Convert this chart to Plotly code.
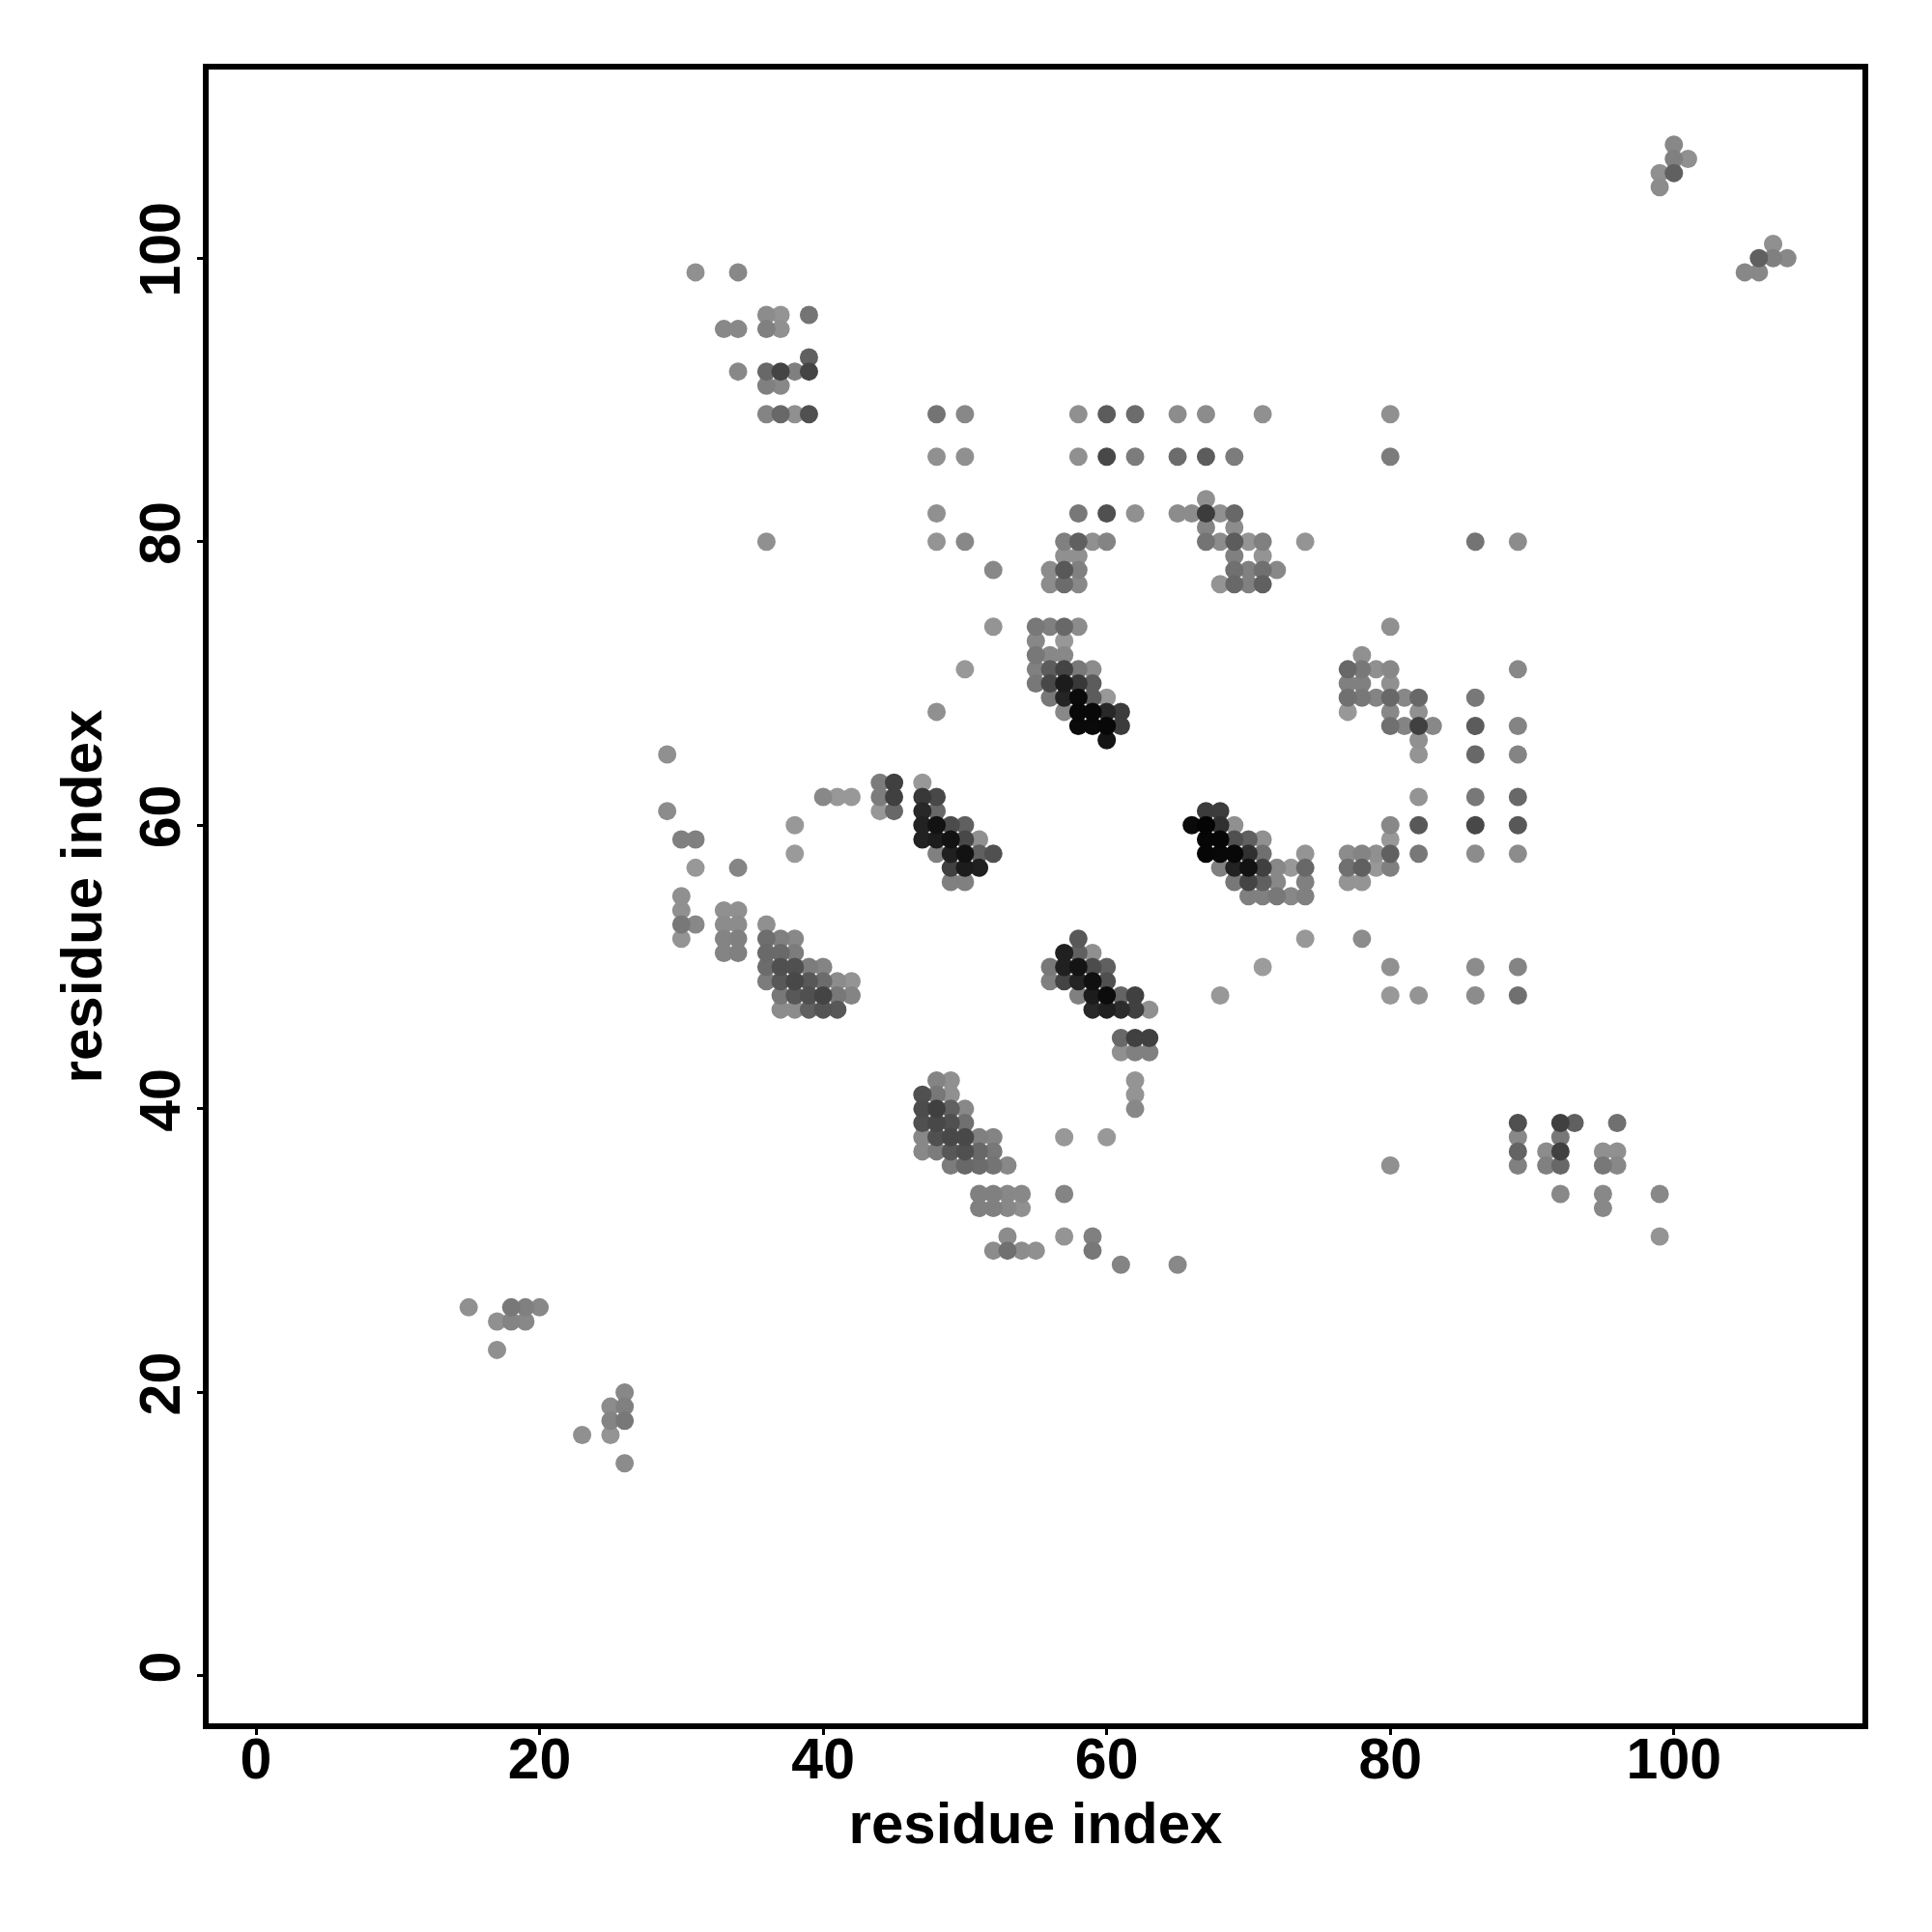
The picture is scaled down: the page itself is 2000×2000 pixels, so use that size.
import plotly.graph_objects as go

# One line per row of the map: the y residue, its x residues, and their grey levels.
row_y = [108, 107, 106, 105, 101, 100, 99, 96, 95, 93, 92, 91, 89, 86, 83, 82, 81, 80, 79, 78,
         77, 74, 73, 72, 71, 70, 69, 68, 67, 66, 65, 63, 62, 61, 60, 59, 58, 57, 56, 55,
         54, 53, 52, 51, 50, 49, 48, 47, 45, 44, 42, 41, 40, 39, 38, 37, 36, 34, 33, 31,
         30, 29, 26, 25, 23, 20, 19, 18, 17, 15]

row_x = [
    [100],
    [100, 101],
    [99, 100],
    [99],
    [107],
    [106, 107, 108],
    [31, 34, 105, 106],
    [36, 37, 39],
    [33, 34, 36, 37],
    [39],
    [34, 36, 37, 38, 39],
    [36, 37],
    [36, 37, 38, 39, 48, 50, 58, 60, 62, 65, 67, 71, 80],
    [48, 50, 58, 60, 62, 65, 67, 69, 80],
    [67],
    [48, 58, 60, 62, 65, 66, 67, 68, 69],
    [67, 69],
    [36, 48, 50, 57, 58, 59, 60, 67, 68, 69, 70, 71, 74, 86, 89],
    [57, 58, 69, 71],
    [52, 56, 57, 58, 69, 70, 71, 72],
    [56, 57, 58, 68, 69, 70, 71],
    [52, 55, 56, 57, 58, 80],
    [55, 57],
    [55, 56, 57, 78],
    [50, 55, 56, 57, 58, 59, 77, 78, 79, 80, 89],
    [55, 56, 57, 58, 59, 77, 78, 80],
    [56, 57, 58, 59, 60, 77, 78, 79, 80, 81, 82, 86],
    [48, 57, 58, 59, 60, 61, 77, 80, 82],
    [58, 59, 60, 61, 80, 81, 82, 83, 86, 89],
    [60, 82],
    [29, 82, 86, 89],
    [44, 45, 47],
    [40, 41, 42, 44, 45, 47, 48, 82, 86, 89],
    [29, 44, 45, 47, 48, 67, 68],
    [38, 47, 48, 49, 50, 66, 67, 68, 69, 80, 82, 86, 89],
    [30, 31, 47, 48, 49, 50, 51, 67, 68, 69, 70, 71, 80],
    [38, 48, 49, 50, 51, 52, 67, 68, 69, 70, 71, 74, 77, 78, 79, 80, 82, 86, 89],
    [31, 34, 49, 50, 51, 68, 69, 70, 71, 72, 73, 74, 77, 78, 79, 80],
    [49, 50, 69, 70, 71, 72, 74, 77, 78],
    [30, 70, 71, 72, 73, 74],
    [30, 33, 34],
    [30, 31, 33, 34, 36],
    [30, 33, 34, 36, 37, 38, 58, 74, 78],
    [33, 34, 36, 37, 38, 57, 58, 59],
    [36, 37, 38, 39, 40, 56, 57, 58, 59, 60, 71, 80, 86, 89],
    [36, 37, 38, 39, 40, 41, 42, 56, 57, 58, 59, 60],
    [37, 38, 39, 40, 41, 42, 58, 59, 60, 61, 62, 68, 80, 82, 86, 89],
    [37, 38, 39, 40, 41, 59, 60, 61, 62, 63],
    [61, 62, 63],
    [61, 62, 63],
    [48, 49, 62],
    [47, 48, 49, 62],
    [47, 48, 49, 50, 62],
    [47, 48, 49, 50, 89, 92, 93, 96],
    [47, 48, 49, 50, 51, 52, 57, 60, 89, 92],
    [47, 48, 49, 50, 51, 52, 89, 91, 92, 95, 96],
    [49, 50, 51, 52, 53, 80, 89, 91, 92, 95, 96],
    [51, 52, 53, 54, 57, 92, 95, 99],
    [51, 52, 53, 54, 95],
    [53, 57, 59, 99],
    [52, 53, 54, 55, 59],
    [61, 65],
    [15, 18, 19, 20],
    [17, 18, 19],
    [17],
    [26],
    [25, 26],
    [25, 26],
    [23, 25],
    [26],
]

row_shade = [
    [0x88],
    [0x80, 0x90],
    [0x90, 0x60],
    [0x8c],
    [0x90],
    [0x60, 0x80, 0x88],
    [0x90, 0x88, 0x88, 0x88],
    [0x8c, 0x94, 0x74],
    [0x88, 0x88, 0x80, 0x90],
    [0x60],
    [0x88, 0x68, 0x44, 0x80, 0x44],
    [0x80, 0x88],
    [0x84, 0x68, 0x90, 0x50, 0x74, 0x88, 0x90, 0x5c, 0x6c, 0x8c, 0x8c, 0x90, 0x90],
    [0x90, 0x90, 0x90, 0x48, 0x7c, 0x6c, 0x5c, 0x7c, 0x7c],
    [0x90],
    [0x90, 0x78, 0x50, 0x90, 0x8c, 0x8c, 0x3c, 0x90, 0x68],
    [0x84, 0x8c],
    [0x90, 0x94, 0x88, 0x80, 0x60, 0x90, 0x84, 0x74, 0x8c, 0x5c, 0x94, 0x80, 0x94, 0x74, 0x8c],
    [0x90, 0x90, 0x80, 0x94],
    [0x88, 0x8c, 0x58, 0x80, 0x70, 0x80, 0x70, 0x88],
    [0x8c, 0x6c, 0x88, 0x94, 0x68, 0x80, 0x60],
    [0x94, 0x78, 0x80, 0x68, 0x8c, 0x90],
    [0x88, 0x98],
    [0x78, 0x88, 0x88, 0x90],
    [0x98, 0x80, 0x5c, 0x44, 0x78, 0x8c, 0x68, 0x78, 0x90, 0x88, 0x88],
    [0x78, 0x48, 0x1c, 0x38, 0x5c, 0x80, 0x80, 0x90],
    [0x78, 0x24, 0x0a, 0x5c, 0x98, 0x70, 0x78, 0x84, 0x68, 0x88, 0x68, 0x78],
    [0x90, 0x88, 0x08, 0x08, 0x28, 0x3c, 0x98, 0x88, 0x90],
    [0x0a, 0x0a, 0x08, 0x3c, 0x70, 0x84, 0x40, 0x88, 0x5c, 0x84],
    [0x14, 0x90],
    [0x90, 0x94, 0x68, 0x84],
    [0x7c, 0x40, 0x98],
    [0x88, 0x98, 0x98, 0x7c, 0x40, 0x38, 0x48, 0x94, 0x78, 0x68],
    [0x8c, 0x98, 0x68, 0x28, 0x68, 0x3c, 0x3c],
    [0x98, 0x22, 0x12, 0x4c, 0x60, 0x0a, 0x04, 0x30, 0x90, 0x88, 0x58, 0x48, 0x58],
    [0x80, 0x80, 0x22, 0x1c, 0x12, 0x48, 0x90, 0x06, 0x06, 0x50, 0x60, 0x90, 0x98],
    [0x9a, 0x80, 0x20, 0x12, 0x60, 0x50, 0x06, 0x08, 0x08, 0x30, 0x70, 0x94, 0x8c, 0x84, 0x90, 0x60, 0x78, 0x8c, 0x8c],
    [0x98, 0x85, 0x40, 0x1c, 0x20, 0x80, 0x22, 0x12, 0x40, 0x88, 0x98, 0x68, 0x70, 0x60, 0x98, 0x80],
    [0x80, 0x80, 0x78, 0x44, 0x60, 0x88, 0x80, 0x94, 0x94],
    [0x90, 0x80, 0x80, 0x78, 0x88, 0x80],
    [0x90, 0x90, 0x90],
    [0x78, 0x88, 0x8c, 0x8c, 0x90],
    [0x94, 0x84, 0x80, 0x6e, 0x80, 0x88, 0x58, 0x98, 0x8c],
    [0x84, 0x80, 0x6a, 0x6a, 0x7c, 0x20, 0x60, 0x90],
    [0x6c, 0x50, 0x50, 0x7c, 0x84, 0x78, 0x20, 0x14, 0x4c, 0x60, 0x9c, 0x90, 0x8c, 0x84],
    [0x7c, 0x58, 0x48, 0x58, 0x6c, 0x8c, 0x94, 0x80, 0x44, 0x24, 0x10, 0x50],
    [0x78, 0x58, 0x50, 0x44, 0x78, 0x84, 0x80, 0x1c, 0x0c, 0x64, 0x40, 0x98, 0x98, 0x94, 0x8c, 0x70],
    [0x8c, 0x8c, 0x60, 0x54, 0x58, 0x28, 0x20, 0x2c, 0x40, 0x90],
    [0x68, 0x40, 0x40],
    [0x90, 0x80, 0x80],
    [0x84, 0x90, 0x94],
    [0x50, 0x78, 0x90, 0x94],
    [0x4c, 0x40, 0x60, 0x88, 0x88],
    [0x50, 0x48, 0x50, 0x70, 0x50, 0x40, 0x60, 0x70],
    [0x88, 0x50, 0x48, 0x48, 0x80, 0x84, 0x98, 0x98, 0x88, 0x78],
    [0x88, 0x7c, 0x58, 0x50, 0x68, 0x78, 0x64, 0x8c, 0x40, 0x90, 0x90],
    [0x7c, 0x68, 0x6c, 0x74, 0x88, 0x90, 0x80, 0x80, 0x68, 0x78, 0x88],
    [0x80, 0x80, 0x88, 0x88, 0x84, 0x88, 0x88, 0x88],
    [0x80, 0x80, 0x88, 0x90, 0x88],
    [0x8c, 0x94, 0x80, 0x94],
    [0x8c, 0x70, 0x8c, 0x90, 0x78],
    [0x84, 0x88],
    [0x90, 0x78, 0x80, 0x88],
    [0x90, 0x84, 0x88],
    [0x90],
    [0x88],
    [0x8c, 0x80],
    [0x84, 0x78],
    [0x90, 0x94],
    [0x8c],
]

tick_values = [0, 20, 40, 60, 80, 100]
axis_label = "residue index"

# Darker marks sit on top of lighter neighbours, as in the picture.
triples = sorted(
    ((x, y, s) for y, xs, ss in zip(row_y, row_x, row_shade) for x, s in zip(xs, ss)),
    key=lambda t: -t[2],
)
xs = [t[0] for t in triples]
ys = [t[1] for t in triples]
colors = [f"rgb({t[2]},{t[2]},{t[2]})" for t in triples]

FONT = "Liberation Sans"
axis_style = dict(
    range=[-3.34, 113.3],
    tickmode="array",
    tickvals=tick_values,
    ticktext=[str(v) for v in tick_values],
    showgrid=False,
    zeroline=False,
    showline=True,
    mirror=True,
    linecolor="black",
    linewidth=6,
    ticks="outside",
    ticklen=6,
    tickwidth=3,
    tickcolor="black",
    tickfont=dict(family=FONT, size=59, color="black", weight=700),
)

fig = go.Figure(
    go.Scatter(
        x=xs,
        y=ys,
        mode="markers",
        marker=dict(size=19, color=colors, line=dict(width=0)),
        hoverinfo="x+y",
    )
)
fig.update_layout(
    width=2000,
    height=2000,
    margin=dict(l=208, r=80, t=64, b=224, autoexpand=False),
    paper_bgcolor="white",
    plot_bgcolor="white",
    showlegend=False,
    xaxis=dict(
        **axis_style,
        ticklabelstandoff=-26,
        title=dict(text=axis_label, font=dict(family=FONT, size=60, color="black", weight=700), standoff=14),
    ),
    yaxis=dict(
        **axis_style,
        tickangle=-90,
        ticklabelstandoff=-6,
        title=dict(text=axis_label, font=dict(family=FONT, size=60, color="black", weight=700), standoff=10),
    ),
)
fig.write_html("out.html")
